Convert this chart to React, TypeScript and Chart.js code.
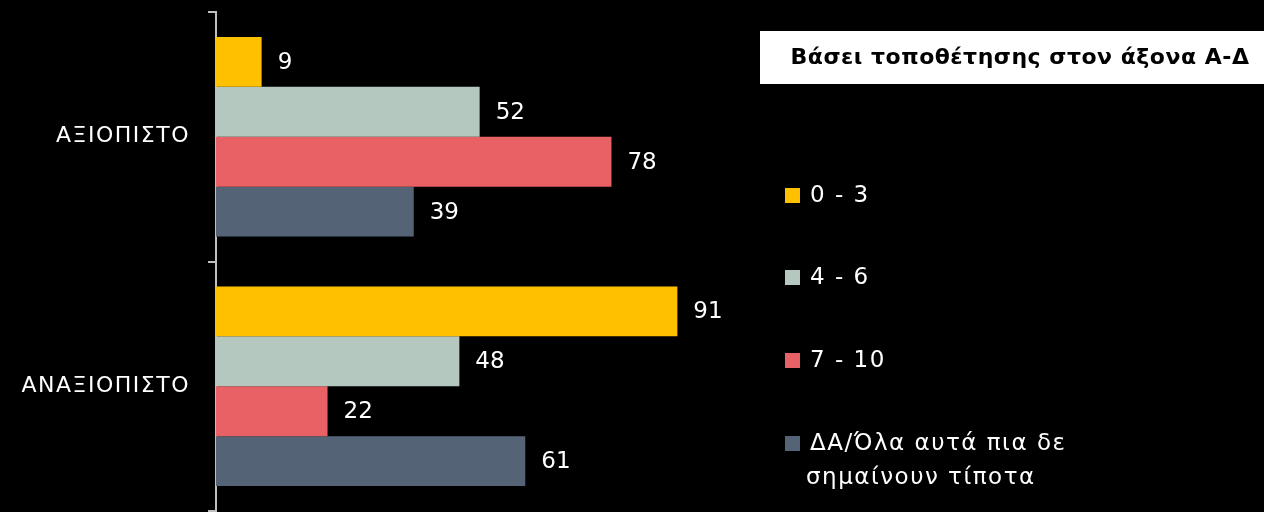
import React, { useEffect, useRef } from "react";
import { Chart, registerables } from "chart.js";

Chart.register(...registerables);

const categories = ["ΑΞΙΟΠΙΣΤΟ", "ΑΝΑΞΙΟΠΙΣΤΟ"];
const seriesLabels = ["0 - 3", "4 - 6", "7 - 10", "ΔΑ/Όλα αυτά πια δε σημαίνουν τίποτα"];
const series0to3 = [9, 91];
const series4to6 = [52, 48];
const series7to10 = [78, 22];
const seriesDA = [39, 61];
const seriesColors = ["#FFC000", "#B5C8BF", "#E86164", "#546476"];
const titleText = "Βάσει τοποθέτησης στον άξονα Α-Δ";

const FONT = "'DejaVu Sans', sans-serif";

const spacingPlugin = {
  id: "tickSpacing",
  beforeDraw(chart: any) {
    chart.ctx.letterSpacing = "1.5px";
  },
  beforeDatasetsDraw(chart: any) {
    chart.ctx.letterSpacing = "0px";
  },
};

const valueLabelPlugin = {
  id: "valueLabels",
  afterDatasetsDraw(chart: any) {
    const ctx = chart.ctx;
    ctx.save();
    ctx.letterSpacing = "0px";
    ctx.fillStyle = "#ffffff";
    ctx.font = `23px ${FONT}`;
    ctx.textAlign = "left";
    ctx.textBaseline = "middle";
    chart.data.datasets.forEach((ds: any, i: number) => {
      const meta = chart.getDatasetMeta(i);
      meta.data.forEach((el: any, j: number) => {
        ctx.fillText(String(ds.data[j]), el.x + 16, el.y + 1);
      });
    });
    ctx.restore();
  },
};

function wrap(ctx: CanvasRenderingContext2D, text: string, maxW: number): string[] {
  const words = text.split(" ");
  const lines: string[] = [];
  let cur = "";
  for (const w of words) {
    const t = cur ? cur + " " + w : w;
    if (ctx.measureText(t).width > maxW && cur) {
      lines.push(cur);
      cur = w;
    } else cur = t;
  }
  if (cur) lines.push(cur);
  return lines;
}

const sideLegendPlugin = {
  id: "sideLegend",
  afterDraw(chart: any) {
    const ctx = chart.ctx;
    ctx.save();
    // title box
    ctx.fillStyle = "#ffffff";
    ctx.fillRect(760, 31, 504, 53);
    ctx.fillStyle = "#000000";
    ctx.font = `bold 22px ${FONT}`;
    ctx.letterSpacing = "0.5px";
    ctx.textAlign = "center";
    ctx.textBaseline = "middle";
    ctx.fillText(titleText, 1020, 58);
    // legend items
    const ys = [195, 277, 360, 443];
    ctx.font = `23px ${FONT}`;
    ctx.letterSpacing = "1.5px";
    ctx.textAlign = "left";
    chart.data.datasets.forEach((ds: any, i: number) => {
      const y = ys[i];
      ctx.fillStyle = ds.backgroundColor;
      ctx.fillRect(785, y - 7, 15, 15);
      ctx.fillStyle = "#ffffff";
      const lines = wrap(ctx, ds.label, 300);
      lines.forEach((ln, k) => {
        ctx.fillText(ln, k === 0 ? 810 : 806, y + 1 + k * 34);
      });
    });
    ctx.restore();
  },
};

export default function App() {
  const ref = useRef<HTMLCanvasElement | null>(null);
  useEffect(() => {
    document.body.style.margin = "0";
    document.body.style.background = "#000000";
    const seriesData = [series0to3, series4to6, series7to10, seriesDA];
    const chart = new Chart(ref.current as HTMLCanvasElement, {
      type: "bar",
      data: {
        labels: categories,
        datasets: seriesLabels.map((label, i) => ({
          label,
          data: seriesData[i],
          backgroundColor: seriesColors[i],
          categoryPercentage: 0.8,
          barPercentage: 1.0,
        })),
      },
      options: {
        indexAxis: "y",
        responsive: false,
        animation: false,
        layout: { padding: { top: 12, right: 541, bottom: 1, left: 0 } },
        plugins: {
          legend: { display: false },
          tooltip: { enabled: false },
        },
        scales: {
          x: { display: false, min: 0, max: 100 },
          y: {
            type: "category",
            afterFit(scale: any) {
              scale.width = 216;
              scale.paddingTop = 0;
              scale.paddingBottom = 0;
            },
            grid: {
              drawOnChartArea: false,
              drawTicks: true,
              tickLength: 8,
              color: "#bfbfbf",
              lineWidth: 2,
              offset: true,
            },
            border: { display: true, color: "#bfbfbf", width: 2 },
            ticks: {
              color: "#ffffff",
              padding: 18,
              font: { family: FONT, size: 22 },
            },
          },
        },
      },
      plugins: [spacingPlugin, valueLabelPlugin, sideLegendPlugin],
    } as any);
    return () => chart.destroy();
  }, []);
  return (
    <div style={{ width: 1264, height: 512, background: "#000" }}>
      <canvas ref={ref} width={1264} height={512} />
    </div>
  );
}
